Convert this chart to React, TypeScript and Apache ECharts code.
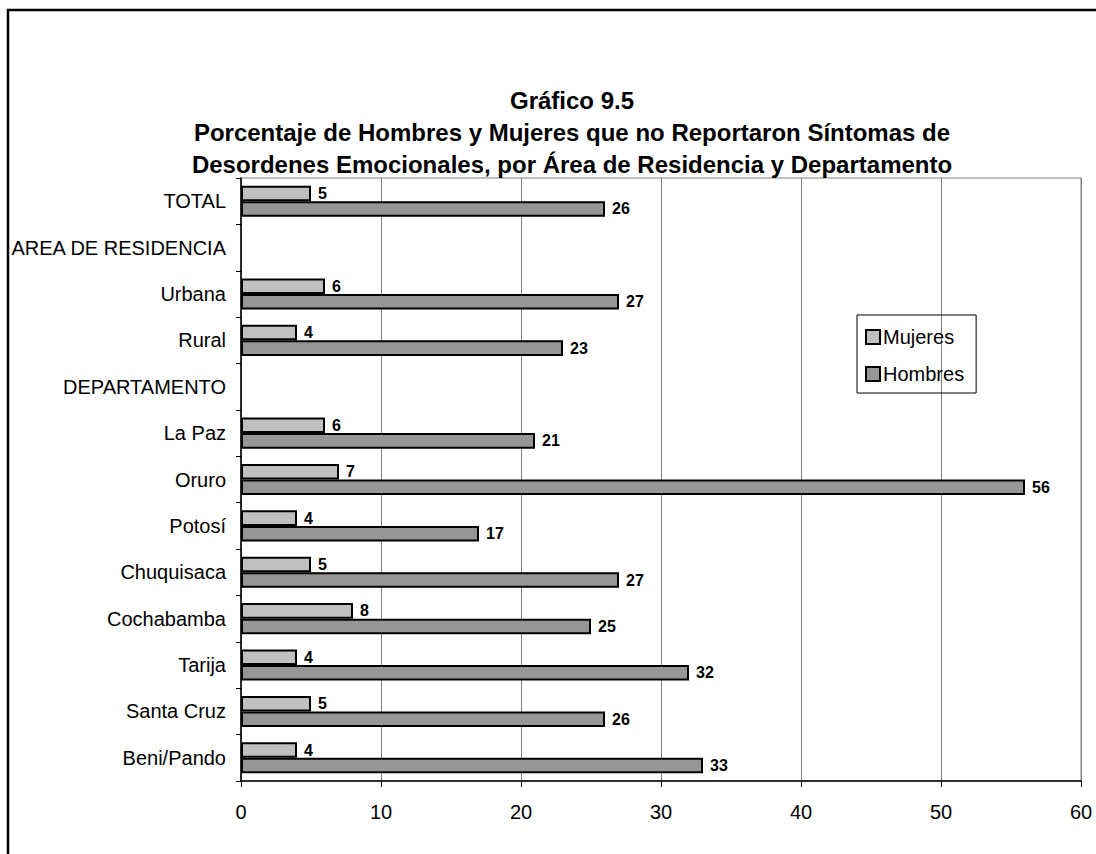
import React, { useEffect, useRef } from "react";
import * as echarts from "echarts";

const categories = [
  "TOTAL",
  "AREA DE RESIDENCIA",
  "Urbana",
  "Rural",
  "DEPARTAMENTO",
  "La Paz",
  "Oruro",
  "Potosí",
  "Chuquisaca",
  "Cochabamba",
  "Tarija",
  "Santa Cruz",
  "Beni/Pando",
];
const mujeres: (number | null)[] = [5, null, 6, 4, null, 6, 7, 4, 5, 8, 4, 5, 4];
const hombres: (number | null)[] = [26, null, 27, 23, null, 21, 56, 17, 27, 25, 32, 26, 33];
const titleLines = [
  "Gráfico 9.5",
  "Porcentaje de Hombres y Mujeres que no Reportaron Síntomas de",
  "Desordenes Emocionales, por Área de Residencia y Departamento",
];

export default function App() {
  const ref = useRef<HTMLDivElement>(null);
  useEffect(() => {
    document.body.style.margin = "0";
    const chart = echarts.init(ref.current!, null, { renderer: "svg" });
    const font = "Liberation Sans, Arial, sans-serif";
    const labelCfg = {
      show: true,
      position: "right" as const,
      distance: 7,
      color: "#000",
      fontWeight: "bold" as const,
      fontSize: 16,
      fontFamily: font,
    };
    chart.setOption({
      animation: false,
      backgroundColor: "#fff",
      textStyle: { fontFamily: font },
      title: {
        text: titleLines.join("\n"),
        left: 567,
        textAlign: "center",
        top: 79,
        textStyle: {
          fontSize: 24,
          fontWeight: "bold",
          color: "#000",
          lineHeight: 32,
          fontFamily: font,
        },
      },
      graphic: [
        {
          type: "rect",
          shape: { x: 8, y: 10, width: 2000, height: 2000 },
          style: { fill: "none", stroke: "#000", lineWidth: 2.5 },
          silent: true,
        },
      ],
      legend: {
        orient: "vertical",
        left: 857,
        top: 315,
        data: ["Mujeres", "Hombres"],
        icon: "rect",
        itemWidth: 14,
        itemHeight: 14,
        itemGap: 17,
        borderColor: "#000",
        borderWidth: 1,
        padding: [12, 12, 9, 8],
        textStyle: { fontSize: 20, color: "#000", fontFamily: font, padding: [0, 0, 0, -2] },
      },
      grid: {
        left: 241,
        right: 15,
        top: 178,
        bottom: 73,
        show: true,
        borderColor: "#808080",
        borderWidth: 1,
      },
      xAxis: {
        type: "value",
        min: 0,
        max: 60,
        interval: 10,
        axisLine: { show: true, lineStyle: { color: "#000", width: 1.5 } },
        axisTick: { show: true, length: 6, lineStyle: { color: "#000" } },
        splitLine: { show: true, lineStyle: { color: "#808080", width: 1 } },
        axisLabel: { fontSize: 20, color: "#000", margin: 21, fontFamily: font },
      },
      yAxis: {
        type: "category",
        inverse: true,
        data: categories,
        axisLine: { show: true, lineStyle: { color: "#000", width: 1.5 } },
        axisTick: { show: true, length: 5, lineStyle: { color: "#000" } },
        axisLabel: { fontSize: 20, color: "#000", margin: 15, fontFamily: font },
      },
      series: [
        {
          name: "Mujeres",
          type: "bar",
          data: mujeres,
          barGap: "0%",
          barCategoryGap: "33%",
          itemStyle: { color: "#c0c0c0", borderColor: "#000", borderWidth: 2 },
          label: labelCfg,
        },
        {
          name: "Hombres",
          type: "bar",
          data: hombres,
          barGap: "0%",
          barCategoryGap: "33%",
          itemStyle: { color: "#969696", borderColor: "#000", borderWidth: 2 },
          label: labelCfg,
        },
      ],
    });
    return () => chart.dispose();
  }, []);
  return <div ref={ref} style={{ width: 1096, height: 854 }} />;
}
